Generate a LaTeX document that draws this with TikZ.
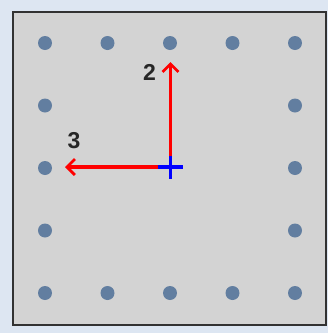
\documentclass[tikz,border=0pt]{standalone}
\usepackage{fontspec}
\setmainfont{Liberation Sans}
\usetikzlibrary{arrows.meta,positioning}
\definecolor{bgblue}{RGB}{221,230,242}
\definecolor{panelgray}{RGB}{211,211,211}
\definecolor{dotblue}{RGB}{98,126,160}
\definecolor{edgegray}{RGB}{50,50,50}

\begin{document}
\begin{tikzpicture}[
  x=1pt, y=-1pt,
  dot/.style={circle, fill=dotblue, inner sep=0pt, minimum size=14pt},
  vec/.style={red, line width=3.2pt, -{Straight Barb[length=8pt,width=16pt,line width=2.8pt]}},
  lbl/.style={font=\bfseries\fontsize{23}{23}\selectfont, text=black!85, inner sep=0pt},
  cross/.style={blue, line width=3.5pt}
]
\useasboundingbox[fill=bgblue] (0,0) rectangle (328,333);
\node[draw=edgegray, line width=2pt, fill=panelgray, minimum width=313pt, minimum height=313pt, inner sep=0pt] (panel) at (169.5,168.5) {};
% dots round the edge
\foreach \i in {0,...,4} {
  \node[dot] (top-\i) at ({45+62.5*\i},43) {};
  \node[dot] (bot-\i) at ({45+62.5*\i},293) {};
}
\foreach \j in {1,2,3} {
  \node[dot] (lft-\j) at (45,{43+62.5*\j}) {};
  \node[dot] (rgt-\j) at (295,{43+62.5*\j}) {};
}
\coordinate (o) at (170.5,167);
\coordinate (tipup) at (170.5,62);
\coordinate (tipleft) at (65,167);
\draw[vec] (o) -- (tipup);
\draw[vec] (o) -- (tipleft);
\draw[cross] ([xshift=-12.5pt]o) -- ([xshift=12.5pt]o);
\draw[cross] ([yshift=-11.5pt]o) -- ([yshift=11.5pt]o);
\node[lbl] (two) at (149.5,72.5) {2};
\node[lbl] (three) at (74,141) {3};
\end{tikzpicture}
\end{document}
